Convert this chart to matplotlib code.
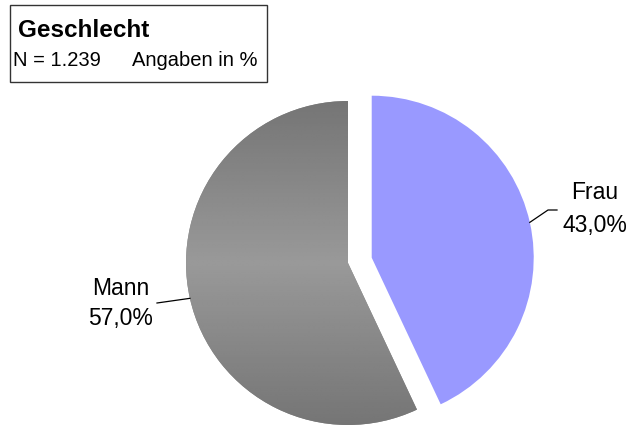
import matplotlib.pyplot as plt
from matplotlib.patches import Rectangle
import numpy as np

# data
labels = ['Frau', 'Mann']
shares = [43.0, 57.0]
title = 'Geschlecht'
n_text = 'N = 1.239'
note = 'Angaben in %'

colors = ['#9999ff', '#888888']

plt.rcParams['font.family'] = ['Liberation Sans', 'DejaVu Sans']

W, H = 629, 426
fig = plt.figure(figsize=(W / 100, H / 100), dpi=100)
ax = fig.add_axes([0, 0, 1, 1])

#  work in pixel-like units, y going up
center = (348, 163)
radius = 162
explode = [0.15 * radius, 0]

wedges, _ = ax.pie(shares, colors=colors, startangle=90, counterclock=False,
                   explode=explode, center=center, radius=radius,
                   wedgeprops=dict(linewidth=0))

#  gray wedge gets a vertical gradient (dark - light - dark)
gray = wedges[1]
cx, cy = gray.center
ramp = np.concatenate([np.linspace(0.46, 0.60, 80), np.linspace(0.60, 0.46, 80)])
img = ax.imshow(ramp[:, None], cmap='gray', vmin=0, vmax=1, aspect='auto',
                extent=(cx - radius, cx + radius, cy - radius, cy + radius),
                zorder=gray.get_zorder() + 0.1, interpolation='bilinear')
img.set_clip_path(gray)

#  leader lines + labels
def edge_point(w):
    mid = np.deg2rad((w.theta1 + w.theta2) / 2)
    x, y = w.center
    return x + w.r * np.cos(mid), y + w.r * np.sin(mid)

line_ends = [[(548, 216), (557, 216)], [(157, 123)]]
text_pos = [(595, 227, 194), (121, 131, 101)]

for w, ends, (tx, y1, y2), lab, val in zip(wedges, line_ends, text_pos, labels, shares):
    pts = [edge_point(w)] + ends
    xs, ys = zip(*pts)
    ax.plot(xs, ys, color='black', lw=0.9, zorder=5)
    ax.text(tx, y1, lab, ha='center', va='baseline', fontsize=16.5)
    ax.text(tx, y2, f'{val:.1f}%'.replace('.', ','), ha='center', va='baseline', fontsize=16.5)

#  title box
ax.add_patch(Rectangle((10, 344), 257, 77, facecolor='white', edgecolor='#333333', lw=1, zorder=6))
ax.text(18, 389, title, fontsize=17.5, fontweight='bold', va='baseline', zorder=7)
ax.text(13, 360, n_text, fontsize=14.5, va='baseline', zorder=7)
ax.text(132, 360, note, fontsize=14.5, va='baseline', zorder=7)

ax.set_xlim(0, W)
ax.set_ylim(0, H)
ax.set_aspect('auto')
ax.axis('off')

plt.savefig('out.png', dpi=100)
